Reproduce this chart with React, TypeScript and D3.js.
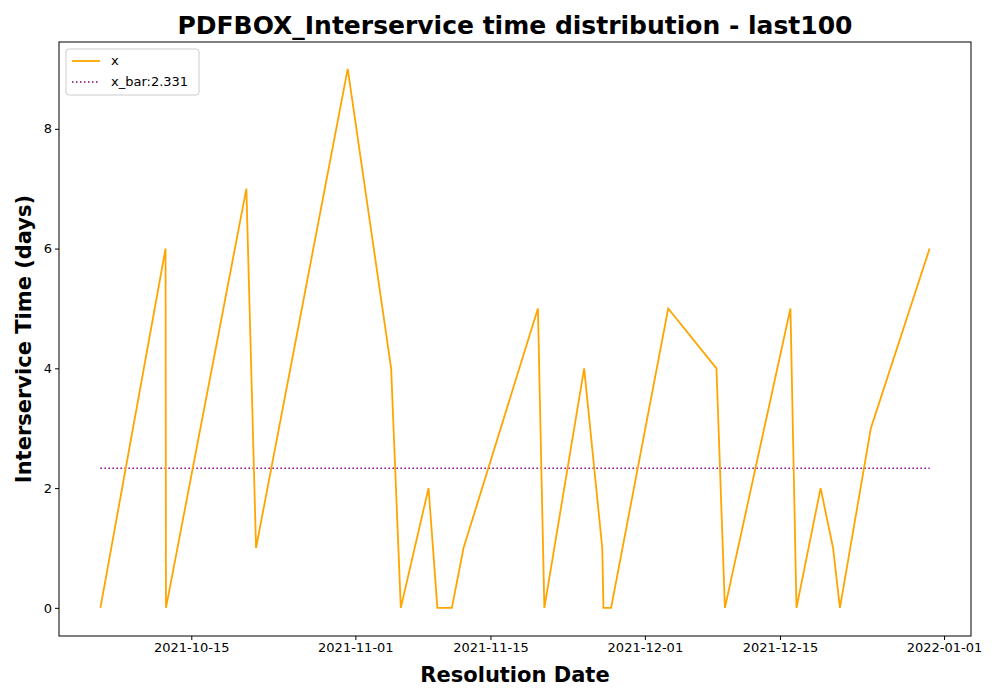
import React, { useEffect, useRef } from 'react';
import * as d3 from 'd3';

const dates = [
  '2021-10-05T14', '2021-10-12T08', '2021-10-12T09', '2021-10-20T17', '2021-10-21T17',
  '2021-10-31T05', '2021-11-04T17', '2021-11-05T17', '2021-11-08T14', '2021-11-09T12',
  '2021-11-11T00', '2021-11-12T05', '2021-11-19T22', '2021-11-20T14', '2021-11-24T17',
  '2021-11-26T14', '2021-11-26T17', '2021-11-27T12', '2021-12-03T10', '2021-12-08T10',
  '2021-12-09T07', '2021-12-16T02', '2021-12-16T17', '2021-12-19T05', '2021-12-20T12',
  '2021-12-21T05', '2021-12-24T10', '2021-12-30T12',
];
const values = [0, 6, 0, 7, 1, 9, 4, 0, 2, 0, 0, 1, 5, 0, 4, 1, 0, 0, 5, 4, 0, 5, 0, 2, 1, 0, 3, 6];
const xBar = 2.331;
const xTicks = ['2021-10-15', '2021-11-01', '2021-11-15', '2021-12-01', '2021-12-15', '2022-01-01'];
const yTicks = [0, 2, 4, 6, 8];

export default function App() {
  const ref = useRef<SVGSVGElement>(null);
  const width = 1000, height = 700;

  useEffect(() => {
    const svg = d3.select(ref.current!);
    svg.selectAll('*').remove();
    const m = { left: 59, right: 29, top: 42, bottom: 64 };
    const font = 'DejaVu Sans, sans-serif';
    const pts = dates.map((d, i) => ({ t: new Date(d + ':00:00'), v: values[i] }));
    const x = d3.scaleTime()
      .domain([new Date('2021-10-01T07:00:00'), new Date('2022-01-03T19:00:00')])
      .range([m.left, width - m.right]);
    const y = d3.scaleLinear().domain([-0.47, 9.45]).range([height - m.bottom, m.top]);

    svg.append('rect').attr('width', width).attr('height', height).attr('fill', '#fff');

    const xa = svg.append('g').attr('transform', `translate(0,${height - m.bottom})`)
      .call(d3.axisBottom(x).tickValues(xTicks.map(s => new Date(s + 'T00:00:00')))
        .tickFormat(d3.timeFormat('%Y-%m-%d') as any).tickSizeOuter(0).tickSize(4));
    xa.selectAll('text').style('font-family', font).style('font-size', '13px').attr('fill', '#000');
    xa.select('.domain').remove();
    const ya = svg.append('g').attr('transform', `translate(${m.left},0)`)
      .call(d3.axisLeft(y).tickValues(yTicks).tickSizeOuter(0).tickSize(4));
    ya.selectAll('text').style('font-family', font).style('font-size', '13px').attr('fill', '#000');
    ya.select('.domain').remove();

    svg.append('line').attr('x1', x(pts[0].t)).attr('x2', x(pts[pts.length - 1].t))
      .attr('y1', y(xBar)).attr('y2', y(xBar))
      .attr('stroke', 'purple').attr('stroke-width', 1.5).attr('stroke-dasharray', '1.5,2.5');

    svg.append('path').datum(pts)
      .attr('d', d3.line<any>().x(d => x(d.t)).y(d => y(d.v)))
      .attr('fill', 'none').attr('stroke', 'orange').attr('stroke-width', 1.8);

    svg.append('rect').attr('x', m.left).attr('y', m.top)
      .attr('width', width - m.left - m.right).attr('height', height - m.top - m.bottom)
      .attr('fill', 'none').attr('stroke', '#000').attr('stroke-width', 1);

    svg.append('text').attr('x', 515).attr('y', 34).attr('text-anchor', 'middle')
      .style('font-family', font).style('font-weight', 'bold').style('font-size', '25px')
      .text('PDFBOX_Interservice time distribution - last100');
    svg.append('text').attr('x', 515).attr('y', 682).attr('text-anchor', 'middle')
      .style('font-family', font).style('font-weight', 'bold').style('font-size', '21px')
      .text('Resolution Date');
    svg.append('text').attr('transform', `translate(31,339) rotate(-90)`).attr('text-anchor', 'middle')
      .style('font-family', font).style('font-weight', 'bold').style('font-size', '21px')
      .text('Interservice Time (days)');

    const lg = svg.append('g').attr('transform', 'translate(66,49)');
    lg.append('rect').attr('width', 133).attr('height', 46).attr('rx', 3)
      .attr('fill', '#fff').attr('stroke', '#ccc');
    lg.append('line').attr('x1', 6).attr('x2', 34).attr('y1', 12).attr('y2', 12)
      .attr('stroke', 'orange').attr('stroke-width', 1.8);
    lg.append('line').attr('x1', 6).attr('x2', 34).attr('y1', 33).attr('y2', 33)
      .attr('stroke', 'purple').attr('stroke-width', 1.5).attr('stroke-dasharray', '1.5,2.5');
    lg.append('text').attr('x', 45).attr('y', 16).style('font-family', font).style('font-size', '13px').text('x');
    lg.append('text').attr('x', 45).attr('y', 37).style('font-family', font).style('font-size', '13px').text(`x_bar:${xBar}`);
  }, []);

  return <svg ref={ref} width={width} height={height} style={{ display: 'block', margin: -8 }} />;
}
